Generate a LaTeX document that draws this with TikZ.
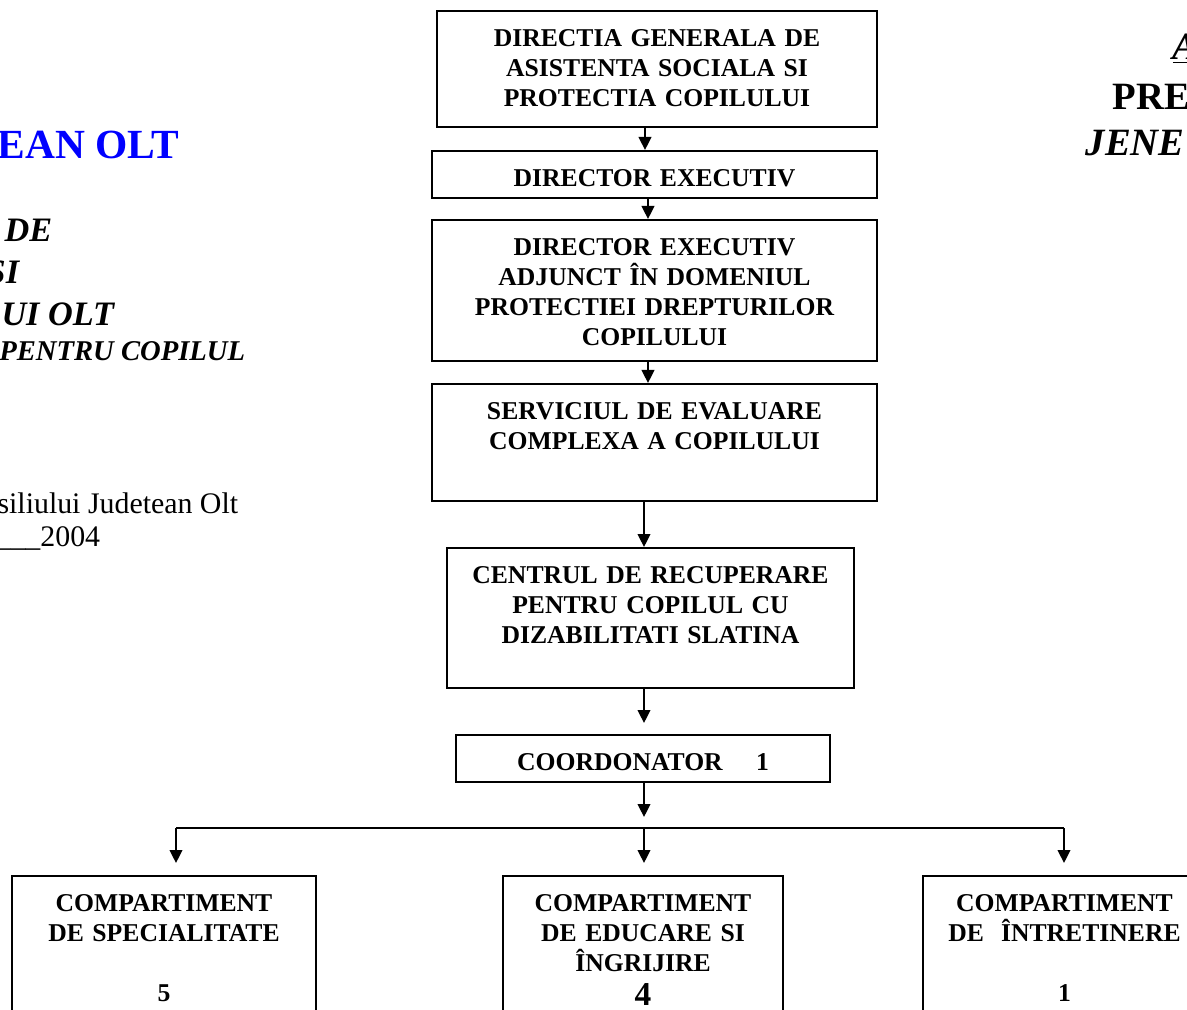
\documentclass[tikz,border=0pt]{standalone}
\usepackage{fontspec}
\setmainfont{Liberation Serif}
\usetikzlibrary{arrows.meta}
\newdimen\px \px=0.02cm

\begin{document}
\begin{tikzpicture}[x=0.02cm, y=-0.02cm, line width=1pt,
  >={Triangle[length=7.4pt,width=7.2pt]},
  box/.style={draw, anchor=north, inner sep=0pt, align=center,
    font=\fontsize{14.6}{17}\selectfont\bfseries, text height=36\px},
  side/.style={inner sep=0pt}]
\useasboundingbox (0,0) rectangle (1187,1010);
\clip (0,0) rectangle (1187,1010);

% heading on the left (cut by the page edge)
\node[side, anchor=east, text=blue, font=\fontsize{23.6}{27}\selectfont\bfseries] (cjo) at (180,145) {EAN OLT};
\node[side, anchor=east, font=\fontsize{19.5}{22}\selectfont\bfseries\itshape] (hde) at (53,230) {DE};
\node[side, anchor=east, font=\fontsize{19.5}{22}\selectfont\bfseries\itshape] (hsi) at (20,272) {SI};
\node[side, anchor=east, font=\fontsize{19.5}{22}\selectfont\bfseries\itshape] (holt) at (115,314) {UI OLT};
\node[side, anchor=east, font=\fontsize{16.3}{19}\selectfont\bfseries\itshape] (hpc) at (246,351) {PENTRU COPILUL};
\node[side, anchor=east, font=\fontsize{17}{20}\selectfont] (hcj) at (239,503) {siliului Judetean Olt};
\node[side, anchor=east, font=\fontsize{17}{20}\selectfont] (hyr) at (101,538) {\_\_\_2004};

% heading on the right (cut by the page edge)
\node[side, anchor=west, font=\fontsize{22}{26}\selectfont\bfseries\itshape] (ra) at (1172,49) {\underline{A}};
\node[side, anchor=west, font=\fontsize{22}{26}\selectfont\bfseries] (rpre) at (1112,97) {PRE};
\node[side, anchor=west, font=\fontsize{22}{26}\selectfont\bfseries\itshape] (rjene) at (1085,143) {JENE};

% the chain of boxes
\node[box, text width=440\px, text depth=80\px] (dgaspc) at (657,10)
  {DIRECTIA GENERALA DE\\ASISTENTA SOCIALA SI\\PROTECTIA COPILULUI};
\node[box, text width=445\px, text depth=11\px] (dirx) at (654.5,150) {DIRECTOR EXECUTIV};
\node[box, text width=445\px, text depth=105\px] (adj) at (654.5,219)
  {DIRECTOR EXECUTIV\\ADJUNCT ÎN DOMENIUL\\PROTECTIEI DREPTURILOR\\COPILULUI};
\node[box, text width=445\px, text depth=81\px] (serv) at (654.5,383)
  {SERVICIUL DE EVALUARE\\COMPLEXA A COPILULUI};
\node[box, text width=407\px, text depth=104\px] (crcd) at (650.5,547)
  {CENTRUL DE RECUPERARE\\PENTRU COPILUL CU\\DIZABILITATI SLATINA};
\node[box, text width=374\px, text depth=11\px] (coord) at (643,734) {COORDONATOR\hspace{1.3em}1};

% compartments
\node[box, text width=304\px, text depth=129\px] (cspec) at (164,875)
  {COMPARTIMENT\\DE SPECIALITATE\\[30\px]5};
\node[box, text width=280\px, text depth=129\px] (cedu) at (643,875)
  {COMPARTIMENT\\DE EDUCARE SI\\ÎNGRIJIRE\\[2pt]{\fontsize{19}{21}\selectfont 4}};
\node[box, text width=283\px, text depth=129\px] (cintr) at (1064.5,875)
  {COMPARTIMENT\\DE~ ÎNTRETINERE\\[30\px]1};

% arrows
\coordinate (c1) at (645,0);
\coordinate (c2) at (648,0);
\coordinate (c3) at (644,0);
\draw[->] (dgaspc.south -| c1) -- (dirx.north -| c1);
\draw[->] (dirx.south -| c2) -- (adj.north -| c2);
\draw[->] (adj.south -| c2) -- (serv.north -| c2);
\draw[->] (serv.south -| c3) -- (crcd.north -| c3);
\draw[->, shorten >=11\px] (crcd.south -| c3) -- (coord.north -| c3);

\coordinate (barL) at (176,828);
\coordinate (barM) at (644,828);
\coordinate (barR) at (1064,828);
\draw[->, shorten >=11\px] (coord.south -| c3) -- (barM);
\draw (barL) -- (barR);
\draw[->, shorten >=12\px] (barL) -- (cspec.north -| barL);
\draw[->, shorten >=12\px] (barM) -- (cedu.north -| barM);
\draw[->, shorten >=12\px] (barR) -- (cintr.north -| barR);
\end{tikzpicture}
\end{document}
